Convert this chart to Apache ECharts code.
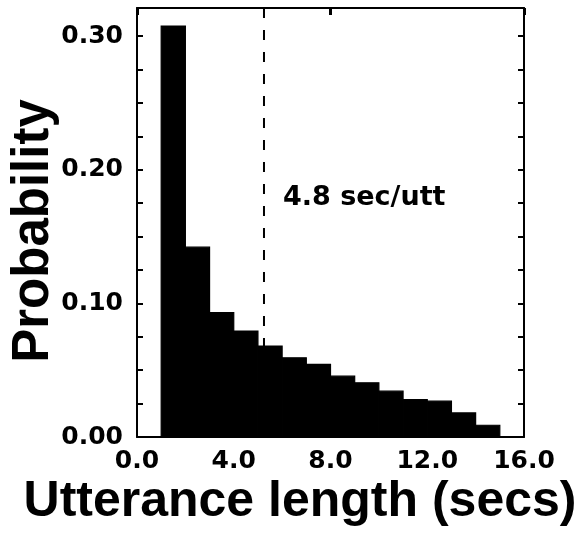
<!DOCTYPE html>
<html>
<head>
<meta charset="utf-8">
<script src="https://cdn.jsdelivr.net/npm/echarts@6/dist/echarts.min.js"></script>
<style>
  html, body { margin: 0; padding: 0; background: #fff; }
  #chart { width: 585px; height: 533px; }
</style>
</head>
<body>
<div id="chart"></div>
<script>
// ---- data ----
const binStarts = [1, 2, 3, 4, 5, 6, 7, 8, 9, 10, 11, 12, 13, 14];
const binWidth = 1;
const probabilities = [0.3075, 0.142, 0.093, 0.0793, 0.068, 0.0593, 0.0543, 0.0455, 0.0405, 0.0343, 0.028, 0.0268, 0.018, 0.0088];
const meanLineX = 5.25;
const meanLabel = '4.8 sec/utt';
const xTickValues = [0, 4, 8, 12, 16];
const yTickLabels = ['0.00', '0.10', '0.20', '0.30'];
const xTitle = 'Utterance length (secs)';
const yTitle = 'Probability';

const X_MIN = 0, X_MAX = 16, Y_MIN = 0, Y_MAX = 0.321;

const tickFont = 'DejaVu Sans';
const titleFont = 'Liberation Sans';

const chart = echarts.init(document.getElementById('chart'), null, { renderer: 'canvas' });

const barData = binStarts.map((s, i) => [s, s + binWidth, probabilities[i]]);

const option = {
  animation: false,
  backgroundColor: '#ffffff',
  grid: { left: 137, right: 61, top: 8, bottom: 96, containLabel: false },
  xAxis: [
    {
      type: 'value', position: 'bottom', min: X_MIN, max: X_MAX, interval: 4,
      axisLine: { show: true, onZero: false, lineStyle: { color: '#000', width: 2 } },
      axisTick: { show: false },
      splitLine: { show: false },
      axisLabel: {
        margin: 12, color: '#000', fontFamily: tickFont, fontWeight: 'bold', fontSize: 25,
        formatter: v => xTickValues.indexOf(v) >= 0 ? v.toFixed(1) : ''
      }
    },
    {
      type: 'value', position: 'top', min: X_MIN, max: X_MAX, interval: 8,
      axisLine: { show: true, onZero: false, lineStyle: { color: '#000', width: 2 } },
      axisTick: { show: true, inside: true, length: 7, lineStyle: { color: '#000', width: 3 } },
      splitLine: { show: false },
      axisLabel: { show: false }
    }
  ],
  yAxis: [
    {
      type: 'value', position: 'left', min: Y_MIN, max: Y_MAX, interval: 0.025,
      axisLine: { show: true, onZero: false, lineStyle: { color: '#000', width: 2 } },
      axisTick: { show: true, inside: true, length: 6, lineStyle: { color: '#000', width: 2 } },
      splitLine: { show: false },
      axisLabel: {
        margin: 14, color: '#000', fontFamily: tickFont, fontWeight: 'bold', fontSize: 25,
        showMaxLabel: false,
        formatter: v => {
          const lbl = v.toFixed(2);
          return (Math.abs(v * 10 - Math.round(v * 10)) < 1e-6 && yTickLabels.indexOf(lbl) >= 0) ? lbl : '';
        }
      }
    },
    {
      type: 'value', position: 'right', min: Y_MIN, max: Y_MAX, interval: 0.025,
      axisLine: { show: true, onZero: false, lineStyle: { color: '#000', width: 2 } },
      axisTick: { show: true, inside: true, length: 6, lineStyle: { color: '#000', width: 2 } },
      splitLine: { show: false },
      axisLabel: { show: false }
    }
  ],
  series: [
    {
      type: 'line',
      xAxisIndex: 0, yAxisIndex: 0,
      data: [[meanLineX, Y_MAX], [meanLineX, Y_MIN]],
      symbol: 'none',
      lineStyle: { color: '#000', width: 2, type: [10, 12] },
      z: 1
    },
    {
      type: 'custom',
      xAxisIndex: 0, yAxisIndex: 0,
      data: barData,
      encode: { x: [0, 1], y: 2 },
      renderItem: function (params, api) {
        const p0 = api.coord([api.value(0), api.value(2)]);
        const p1 = api.coord([api.value(1), 0]);
        return {
          type: 'rect',
          shape: { x: p0[0], y: p0[1], width: p1[0] - p0[0], height: p1[1] - p0[1] },
          style: { fill: '#000', stroke: '#000', lineWidth: 1.2 }
        };
      },
      z: 2
    }
  ],
  graphic: [
    {
      type: 'text', left: 283, top: 184, z: 10,
      style: { text: meanLabel, fill: '#000', font: 'bold 27px "' + tickFont + '"' }
    },
    {
      type: 'text', x: 34, y: 231, rotation: Math.PI / 2, z: 10,
      style: { text: yTitle, fill: '#000', font: 'bold 51px "' + titleFont + '"', align: 'center', verticalAlign: 'middle' }
    },
    {
      type: 'text', x: 300, y: 502, z: 10,
      style: { text: xTitle, fill: '#000', font: 'bold 50px "' + titleFont + '"', align: 'center', verticalAlign: 'middle' }
    }
  ]
};

chart.setOption(option);
</script>
</body>
</html>
